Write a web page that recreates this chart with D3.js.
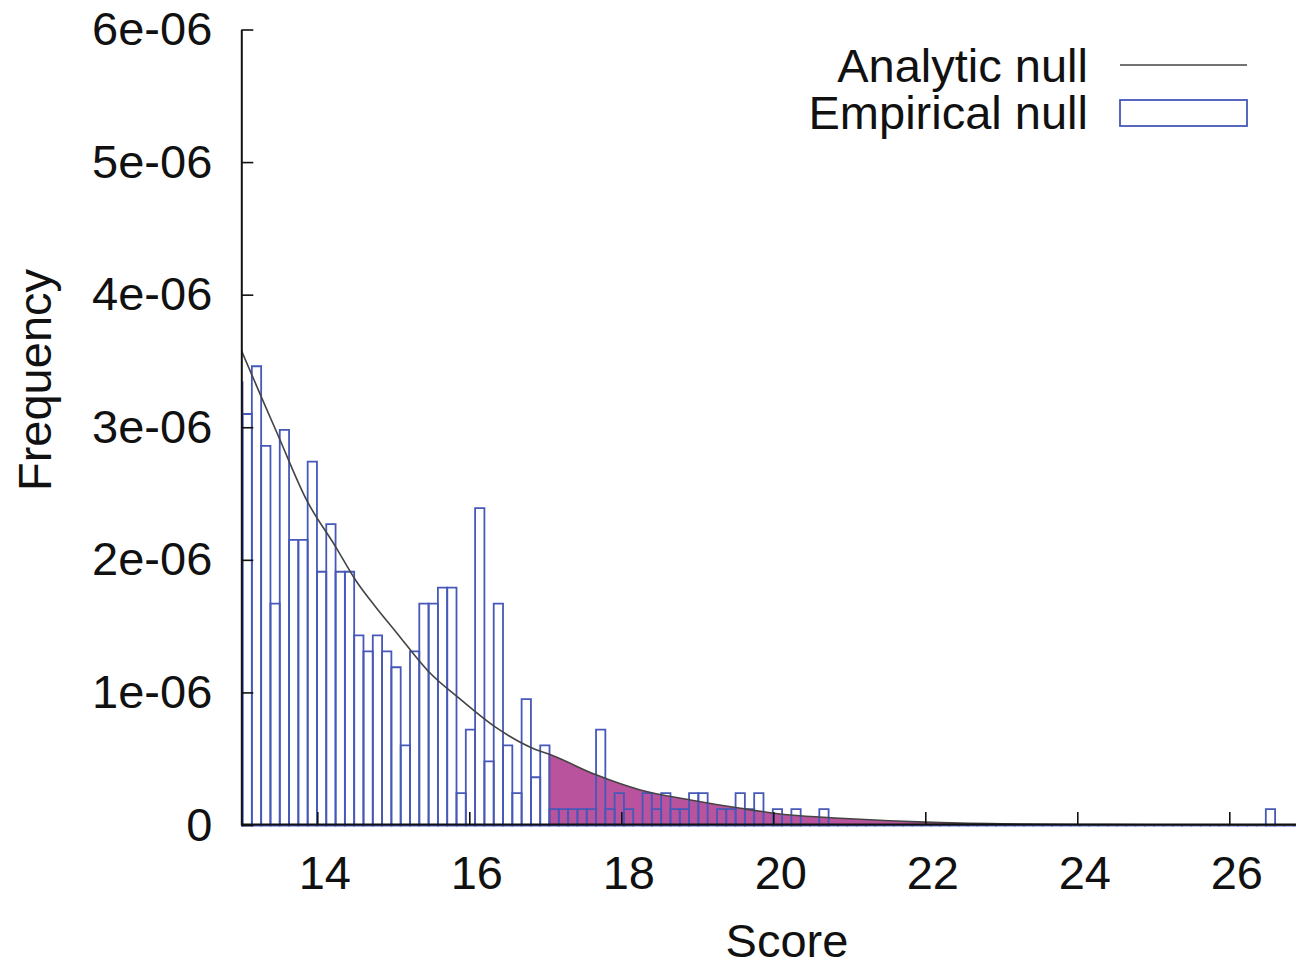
<!DOCTYPE html>
<html lang="en">
<head>
    <meta charset="UTF-8">
    <title>Analytic vs empirical null</title>
    <script src="https://d3js.org/d3.v7.min.js"></script>
    <style>
        body {
            margin: 0;
            background: #fff;
        }
        svg {
            display: block;
            font-family: 'Liberation Sans', Arial, Helvetica, sans-serif;
        }
        .tick text {
            font-size: 47px;
            fill: #111;
        }
        .axis-title, .legend-label {
            font-size: 47px;
            fill: #111;
        }
    </style>
</head>
<body>
    <div id="chart"></div>

    <script>
        // Histogram of the empirical null (frequency, units of 1e-6), one value per bin
        const binStart = 12.894;   // left edge of the first (clipped) bin
        const binWidth = 0.1224;
        const empiricalFreq = [
            3.34, 3.10, 3.46, 2.86, 1.67, 2.98, 2.15, 2.15, 2.74, 1.91,
            2.27, 1.91, 1.91, 1.43, 1.31, 1.43, 1.31, 1.19, 0.60, 1.31,
            1.67, 1.67, 1.79, 1.79, 0.24, 0.72, 2.39, 0.48, 1.67, 0.60,
            0.24, 0.95, 0.36, 0.60, 0.12, 0.12, 0.12, 0.12, 0.12, 0.72,
            0.12, 0.24, 0.12, 0.00, 0.24, 0.12, 0.24, 0.12, 0.12, 0.24,
            0.24, 0.00, 0.12, 0.12, 0.24, 0.12, 0.24, 0.00, 0.12, 0.00,
            0.12, 0.00, 0.00, 0.12, 0.00, 0.00, 0.00, 0.00, 0.00, 0.00,
            0.00, 0.00, 0.00, 0.00, 0.00, 0.00, 0.00, 0.00, 0.00, 0.00,
            0.00, 0.00, 0.00, 0.00, 0.00, 0.00, 0.00, 0.00, 0.00, 0.00,
            0.00, 0.00, 0.00, 0.00, 0.00, 0.00, 0.00, 0.00, 0.00, 0.00,
            0.00, 0.00, 0.00, 0.00, 0.00, 0.00, 0.00, 0.00, 0.00, 0.00,
            0.00, 0.12, 0.00, 0.00, 0.00
        ];

        // Analytic null (score, frequency in 1e-6)
        const analyticScore = [13.0, 13.27, 13.49, 13.86, 14.24, 14.5, 14.76, 15.03, 15.46, 15.9,
                               16.34, 16.87, 17.07, 17.66, 18.25, 18.91, 19.57, 20.22, 20.88, 22,
                               23, 24, 25, 27];
        const analyticFreq = [3.58, 3.22, 2.93, 2.45, 2.10, 1.85, 1.65, 1.46, 1.16, 0.94,
                              0.74, 0.57, 0.53, 0.38, 0.264, 0.189, 0.126, 0.075, 0.051, 0.022,
                              0.009, 0.004, 0.0015, 0];

        const shadeFrom = 17.04;   // tail shaded under the analytic curve

        const xTicks = [14, 16, 18, 20, 22, 24, 26];
        const yTicks = [0, 1e-6, 2e-6, 3e-6, 4e-6, 5e-6, 6e-6];

        const legendLabels = ['Analytic null', 'Empirical null'];

        // Layout
        const W = 1296, H = 967;
        const plot = { left: 241.3, top: 29.5, bottom: 825, unit: 76 };
        const barColor = '#4658b8';
        const shadeColor = '#b9539e';
        const curveColor = '#444';

        const svg = d3.select('#chart').append('svg')
            .attr('width', W)
            .attr('height', H);

        const x = d3.scaleLinear()
            .domain([13, 27])
            .range([plot.left, plot.left + 14 * plot.unit]);

        const y = d3.scaleLinear()
            .domain([0, 6e-6])
            .range([plot.bottom, plot.top]);

        svg.append('defs').append('clipPath')
            .attr('id', 'plot-clip')
            .append('rect')
            .attr('x', plot.left)
            .attr('y', 0)
            .attr('width', W - plot.left)
            .attr('height', plot.bottom + 2);

        svg.select('defs').append('clipPath')
            .attr('id', 'shade-clip')
            .append('rect')
            .attr('x', x(shadeFrom))
            .attr('y', 0)
            .attr('width', W)
            .attr('height', plot.bottom);

        const curveData = analyticScore.map((s, i) => [s, analyticFreq[i] * 1e-6]);

        const g = svg.append('g').attr('clip-path', 'url(#plot-clip)');

        // Shaded tail
        g.append('path')
            .datum(curveData)
            .attr('clip-path', 'url(#shade-clip)')
            .attr('fill', shadeColor)
            .attr('d', d3.area()
                .x(d => x(d[0]))
                .y0(y(0))
                .y1(d => y(d[1]))
                .curve(d3.curveMonotoneX));

        // Hollow histogram boxes
        const bins = empiricalFreq.map((v, i) => ({
            x0: binStart + i * binWidth,
            x1: binStart + (i + 1) * binWidth,
            v: v * 1e-6
        }));

        g.selectAll('.bar')
            .data(bins)
            .enter().append('path')
            .attr('class', 'bar')
            .attr('fill', 'none')
            .attr('stroke', barColor)
            .attr('stroke-width', 1.8)
            .attr('d', d => `M${x(d.x0)},${y(0) + 0.5}V${y(d.v)}H${x(d.x1)}V${y(0) + 0.5}Z`);

        // Analytic curve
        g.append('path')
            .datum(curveData)
            .attr('fill', 'none')
            .attr('stroke', curveColor)
            .attr('stroke-width', 1.6)
            .attr('d', d3.line()
                .x(d => x(d[0]))
                .y(d => y(d[1]))
                .curve(d3.curveMonotoneX));

        // Axes (ticks point inwards)
        const fmtY = d => d === 0 ? '0' : `${Math.round(d * 1e6)}e-06`;

        const yAxis = svg.append('g')
            .attr('transform', `translate(${plot.left},0)`)
            .call(d3.axisLeft(y).tickValues(yTicks).tickFormat(fmtY)
                .tickSize(-12).tickSizeOuter(0).tickPadding(29));

        const xAxis = svg.append('g')
            .attr('transform', `translate(0,${plot.bottom - 1})`)
            .call(d3.axisBottom(x).tickValues(xTicks).tickFormat(d3.format('d'))
                .tickSize(-12).tickSizeOuter(0).tickPadding(32));

        [yAxis, xAxis].forEach(a => {
            a.select('.domain').attr('stroke', '#111').attr('stroke-width', 2);
            a.selectAll('.tick line').attr('stroke', '#111').attr('stroke-width', 1.6);
            a.selectAll('.tick text').attr('font-size', null).attr('font-family', null);
        });
        xAxis.selectAll('.tick text').attr('dx', 7);

        // Axis titles
        svg.append('text')
            .attr('class', 'axis-title')
            .attr('x', 787)
            .attr('y', 957)
            .attr('text-anchor', 'middle')
            .text('Score');

        svg.append('text')
            .attr('class', 'axis-title')
            .attr('transform', 'translate(51,380) rotate(-90)')
            .attr('text-anchor', 'middle')
            .text('Frequency');

        // Legend
        const legend = svg.append('g');
        legendLabels.forEach((label, i) => {
            const ly = 66 + i * 47;
            legend.append('text')
                .attr('class', 'legend-label')
                .attr('x', 1088)
                .attr('y', ly)
                .attr('dy', '0.35em')
                .attr('text-anchor', 'end')
                .text(label);
        });
        legend.append('line')
            .attr('x1', 1120).attr('x2', 1247)
            .attr('y1', 65).attr('y2', 65)
            .attr('stroke', curveColor)
            .attr('stroke-width', 1.6);
        legend.append('rect')
            .attr('x', 1120).attr('y', 100)
            .attr('width', 127).attr('height', 26)
            .attr('fill', 'none')
            .attr('stroke', barColor)
            .attr('stroke-width', 1.8);
    </script>
</body>
</html>
